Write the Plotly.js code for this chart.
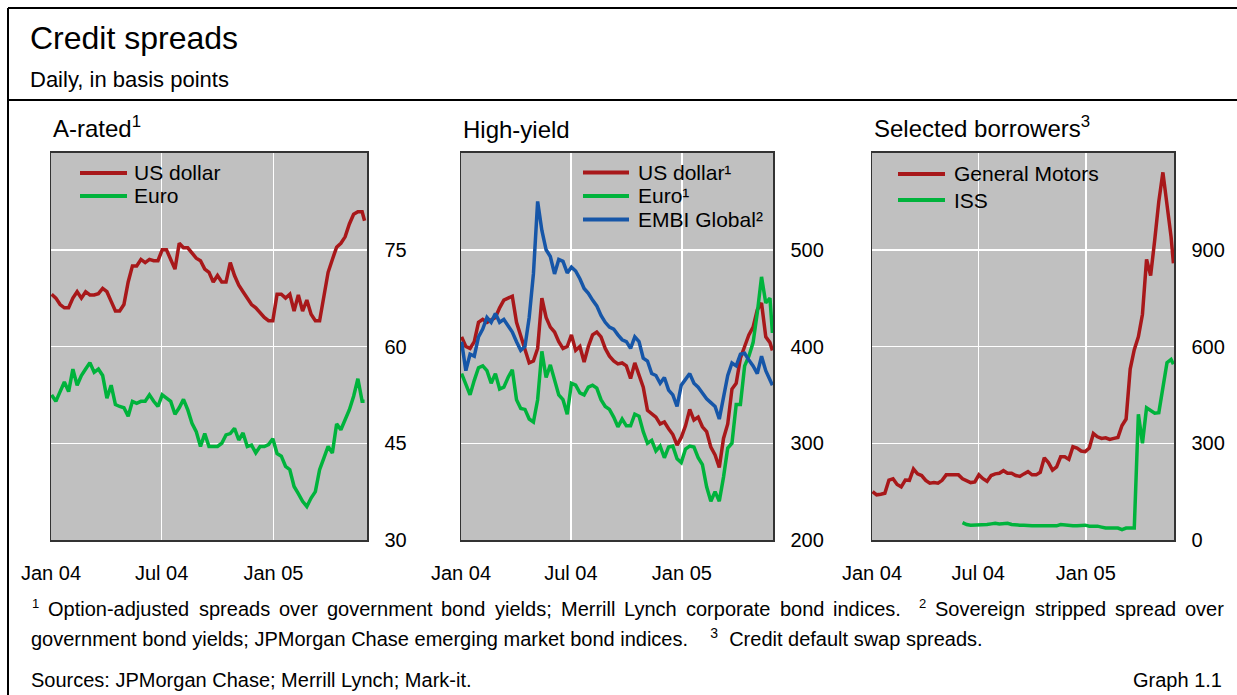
<!DOCTYPE html>
<html><head><meta charset="utf-8">
<script src="https://cdn.plot.ly/plotly-3.0.1.min.js"></script>
<style>html,body{margin:0;padding:0;background:#fff;}#chart{width:1237px;height:695px;}</style>
</head><body><div id="chart"></div>
<script>
// ---------- data (weekly readings) ----------
const dates = ['2004-01-02','2004-01-09','2004-01-16','2004-01-23','2004-01-30','2004-02-06','2004-02-13','2004-02-20','2004-02-27','2004-03-05',
 '2004-03-12','2004-03-19','2004-03-26','2004-04-02','2004-04-09','2004-04-16','2004-04-23','2004-04-30','2004-05-07','2004-05-14',
 '2004-05-21','2004-05-28','2004-06-04','2004-06-11','2004-06-18','2004-06-25','2004-07-02','2004-07-09','2004-07-16','2004-07-23',
 '2004-07-30','2004-08-06','2004-08-13','2004-08-20','2004-08-27','2004-09-03','2004-09-10','2004-09-17','2004-09-24','2004-10-01',
 '2004-10-08','2004-10-15','2004-10-22','2004-10-29','2004-11-05','2004-11-12','2004-11-19','2004-11-26','2004-12-03','2004-12-10',
 '2004-12-17','2004-12-24','2004-12-31','2005-01-07','2005-01-14','2005-01-21','2005-01-28','2005-02-04','2005-02-11','2005-02-18',
 '2005-02-25','2005-03-04','2005-03-11','2005-03-18','2005-03-25','2005-04-01','2005-04-08','2005-04-15','2005-04-22','2005-04-29',
 '2005-05-06','2005-05-13','2005-05-20','2005-05-27','2005-05-31'];

// A-rated
const aRatedUSD = [68.1, 67.5, 66.5, 66, 66, 67.5, 68.5, 67.5, 68.5, 68,
 68, 68.2, 69, 68.5, 67, 65.5, 65.5, 66.5, 70, 72.5,
 72.5, 73.5, 73, 73.5, 73.3, 73.3, 75, 75, 73.5, 72,
 76, 75.3, 75.3, 74.5, 73.7, 73.3, 72, 71.5, 70, 71,
 70, 70, 73, 71, 69.5, 68.5, 67.5, 66.5, 66, 65.3,
 64.5, 64, 64, 68.1, 68.1, 67.5, 68.1, 65.5, 68, 65.5,
 67.2, 65, 64, 64, 67.5, 71.5, 73.5, 75.4, 76, 77,
 79, 80.5, 80.9, 80.9, 79.5];
const aRatedEUR = [52.5, 51.5, 53, 54.5, 53, 56.5, 54, 55.5, 56.5, 57.5,
 56, 56.5, 55.5, 52, 54, 51, 50.7, 50.5, 49.2, 51.5,
 51.2, 51.5, 51.5, 52.5, 51.5, 50.7, 52.5, 52, 51.5, 49.5,
 50.5, 51.8, 50.2, 48.1, 46.8, 44.5, 46.5, 44.5, 44.5, 44.5,
 45, 46.3, 46.5, 47.3, 45.5, 46.6, 44.5, 44.7, 43.5, 44.5,
 44.5, 44.8, 45.7, 43.4, 43, 41.4, 40.9, 38.3, 37.2, 36,
 35.2, 36.5, 37.5, 40.9, 42.7, 44.5, 43.5, 48, 47.1, 48.6,
 50.2, 52.3, 55, 51.5, 51.5];

// High-yield
const hyUSD = [410, 400, 398, 405, 425, 428, 425, 428, 430, 440,
 448, 450, 452, 425, 410, 395, 383, 385, 398, 450,
 430, 420, 415, 405, 398, 400, 412, 396, 400, 384,
 400, 412, 415, 410, 398, 390, 385, 382, 383, 380,
 367, 383, 370, 358, 334, 331, 327, 320, 322, 315,
 309, 298, 306, 318, 335, 324, 327, 317, 312, 296,
 288, 275, 305, 320, 356, 362, 388, 400, 412, 420,
 438, 445, 410, 404, 396];
const hyEUR = [372, 360, 350, 365, 378, 380, 375, 362, 372, 356,
 358, 368, 376, 345, 336, 335, 325, 322, 345, 395,
 368, 381, 366, 350, 345, 330, 362, 360, 352, 350,
 358, 360, 357, 345, 338, 335, 327, 317, 325, 318,
 318, 330, 328, 312, 300, 303, 292, 297, 285, 296,
 297, 284, 280, 294, 297, 296, 285, 278, 255, 240,
 250, 240, 265, 295, 300, 340, 340, 380, 390, 404,
 435, 472, 445, 450, 414];
const embiGlobal = [405, 375, 392, 390, 410, 418, 430, 425, 434, 425,
 428, 422, 415, 405, 396, 400, 430, 475, 550, 520,
 500, 493, 475, 490, 488, 476, 482, 478, 470, 460,
 455, 448, 442, 432, 425, 420, 418, 412, 407, 405,
 398, 410, 405, 388, 385, 372, 370, 362, 368, 355,
 350, 338, 360, 366, 372, 362, 358, 352, 346, 342,
 338, 325, 350, 370, 383, 380, 392, 393, 386, 380,
 372, 390, 375, 365, 360];

// Selected borrowers (CDS)
const generalMotors = [150, 140, 142, 145, 186, 190, 172, 165, 186, 185,
 220, 205, 200, 185, 176, 178, 176, 185, 202, 202,
 200, 202, 190, 184, 178, 180, 202, 190, 182, 200,
 205, 207, 215, 207, 207, 200, 197, 205, 212, 202,
 202, 210, 255, 240, 217, 227, 258, 258, 250, 289,
 285, 276, 274, 285, 330, 320, 315, 317, 312, 315,
 318, 355, 375, 530, 590, 630, 700, 870, 820, 930,
 1050, 1140, 1040, 940, 858];
const iss = [null, null, null, null, null, null, null, null, null, null,
 null, null, null, null, null, null, null, null, null, null,
 null, null, 54, 48, 46, 46, 48, 48, 48, 50,
 52, 50, 52, 52, 48, 46, 46, 46, 44, 44,
 44, 44, 44, 44, 44, 44, 48, 46, 44, 44,
 44, 46, 46, 43, 43, 43, 40, 37, 37, 37,
 37, 32, 37, 37, 37, 390, 300, 410, 400, 393,
 395, 470, 550, 560, 545];

const xTickVals = ['2004-01-01', '2004-07-01', '2005-01-01'];
const xTickText = ['Jan 04', 'Jul 04', 'Jan 05'];
const yTicksA = [30, 45, 60, 75];
const yTicksHY = [200, 300, 400, 500];
const yTicksSB = [0, 300, 600, 900];

// footnote text (first line is justified word by word)
const note1Words = ['Option-adjusted', 'spreads', 'over', 'government', 'bond', 'yields;', 'Merrill', 'Lynch', 'corporate', 'bond', 'indices.'];
const note2Words = ['Sovereign', 'stripped', 'spread', 'over'];
const noteLine2 = 'government bond yields; JPMorgan Chase emerging market bond indices.';
const note3Text = 'Credit default swap spreads.';
const sourcesText = 'Sources: JPMorgan Chase; Merrill Lynch; Mark-it.';

// ---------- styling ----------
const W = 1237, H = 695;
const fx = p => p / W, fy = p => 1 - p / H;
const RED = '#a8181a', GREEN = '#00b33c', BLUE = '#1656a8';
const FONT = 'Liberation Sans, Arial, Helvetica, sans-serif';
const LW = 3.5;

const series = [
  {y: aRatedUSD, name: 'US dollar', color: RED, xa: 'x', ya: 'y'},
  {y: aRatedEUR, name: 'Euro', color: GREEN, xa: 'x', ya: 'y'},
  {y: hyUSD, name: 'US dollar¹', color: RED, xa: 'x2', ya: 'y2'},
  {y: hyEUR, name: 'Euro¹', color: GREEN, xa: 'x2', ya: 'y2'},
  {y: embiGlobal, name: 'EMBI Global²', color: BLUE, xa: 'x2', ya: 'y2'},
  {y: generalMotors, name: 'General Motors', color: RED, xa: 'x3', ya: 'y3'},
  {y: iss, name: 'ISS', color: GREEN, xa: 'x3', ya: 'y3'}
];
const data = series.map(s => ({x: dates, y: s.y, name: s.name, type: 'scatter', mode: 'lines',
  connectgaps: false, line: {color: s.color, width: LW}, xaxis: s.xa, yaxis: s.ya,
  hoverinfo: 'skip', showlegend: false}));

function xax(x0, x1, range, anchor) {
  return {domain: [fx(x0), fx(x1)], range: range, type: 'date', anchor: anchor,
    tickmode: 'array', tickvals: xTickVals, ticktext: xTickText, ticks: '',
    ticklabelstandoff: 14, tickfont: {size: 20, color: '#000', family: FONT},
    showgrid: true, gridcolor: '#ffffff', gridwidth: 1.5, zeroline: false,
    showline: true, linecolor: '#333', linewidth: 2, mirror: true, fixedrange: true};
}
function yax(range, ticks, anchor) {
  return {domain: [fy(540), fy(153)], range: range, anchor: anchor, side: 'right',
    tickmode: 'array', tickvals: ticks, ticks: '', ticklabelstandoff: 12,
    tickfont: {size: 20, color: '#000', family: FONT},
    showgrid: true, gridcolor: '#ffffff', gridwidth: 1.5, zeroline: false,
    showline: true, linecolor: '#333', linewidth: 1.5, mirror: true, fixedrange: true};
}
function ann(text, x, y, size, xanchor) {
  return {text: text, x: fx(x), y: fy(y), xref: 'paper', yref: 'paper',
    xanchor: xanchor || 'left', yanchor: 'middle', showarrow: false, borderpad: 0,
    font: {size: size, color: '#000', family: FONT}};
}
const NB = '\u00a0';

const annotations = [
  ann('Credit spreads', 29, 38, 32),
  ann('Daily, in basis points', 29, 80, 22),
  ann('A-rated<sup>1</sup>', 52, 127, 24),
  ann('High-yield', 462, 129, 24),
  ann('Selected borrowers<sup>3</sup>', 873, 127, 24),
  ann(noteLine2 + NB + NB + NB + ' <sup>3</sup>' + NB + ' ' + note3Text, 30, 637, 20),
  ann(sourcesText, 30, 680, 20),
  ann('Graph 1.1', 1223, 680, 20, 'right')
];

// justify footnote line 1 between x=30 and x=1223
(function () {
  const ctx = document.createElement('canvas').getContext('2d');
  const tw = (t, s) => { ctx.font = s + 'px "Liberation Sans", Arial, sans-serif'; return ctx.measureText(t).width; };
  const FS = 20, SUP = 13, SUPGAP = 9, X0 = 31, X1 = 1223, Y = 609, YS = 603;
  const s1 = tw('1', SUP), s2 = tw('2', SUP);
  const w1 = note1Words.map(w => tw(w, FS)), w2 = note2Words.map(w => tw(w, FS));
  const sum = a => a.reduce((p, c) => p + c, 0);
  const nGaps = (note1Words.length - 1) + 2 + (note2Words.length - 1);
  const g = (X1 - X0 - s1 - s2 - 2 * SUPGAP - sum(w1) - sum(w2)) / nGaps;
  let x = X0;
  annotations.push(ann('1', x, YS, SUP)); x += s1 + SUPGAP;
  note1Words.forEach((w, i) => { annotations.push(ann(w, x, Y, FS)); x += w1[i] + g; });
  x += g;
  annotations.push(ann('2', x, YS, SUP)); x += s2 + SUPGAP;
  note2Words.forEach((w, i) => { annotations.push(ann(w, x, Y, FS)); x += w2[i] + g; });
})();

const shapes = [
  {type: 'line', xref: 'paper', yref: 'paper', x0: fx(8), x1: 1, y0: fy(8), y1: fy(8), line: {color: '#000', width: 2}},
  {type: 'line', xref: 'paper', yref: 'paper', x0: fx(8), x1: 1, y0: fy(100), y1: fy(100), line: {color: '#000', width: 2}},
  {type: 'line', xref: 'paper', yref: 'paper', x0: fx(8), x1: fx(8), y0: fy(8), y1: 0, line: {color: '#000', width: 2}}
];

// legend boxes (grey background hides grid lines), drawn by hand for exact row spacing
const legends = [
  {box: [72, 157, 240, 216], sx: [80, 127], tx: 133, rows: [173, 196], items: [0, 1]},
  {box: [575, 157, 771, 239], sx: [583, 629], tx: 637, rows: [172.5, 196, 219.5], items: [2, 3, 4]},
  {box: [890, 157, 1120, 220], sx: [898, 945], tx: 953, rows: [174, 200], items: [5, 6]}
];
legends.forEach(L => {
  shapes.push({type: 'rect', xref: 'paper', yref: 'paper', layer: 'between',
    x0: fx(L.box[0]), y0: fy(L.box[1]), x1: fx(L.box[2]), y1: fy(L.box[3]),
    fillcolor: '#c0c0c0', line: {width: 0}});
  L.items.forEach((k, r) => {
    const s = series[k];
    shapes.push({type: 'line', xref: 'paper', yref: 'paper', layer: 'above',
      x0: fx(L.sx[0]), x1: fx(L.sx[1]), y0: fy(L.rows[r]), y1: fy(L.rows[r]),
      line: {color: s.color, width: 4}});
    annotations.push(ann(s.name, L.tx, L.rows[r], 21));
  });
});

const layout = {
  width: W, height: H, margin: {l: 0, r: 0, t: 0, b: 0},
  paper_bgcolor: '#ffffff', plot_bgcolor: '#c0c0c0',
  font: {family: FONT, color: '#000'}, showlegend: false,
  xaxis: xax(51, 367, ['2004-01-01', '2005-06-04'], 'y'),
  yaxis: yax([30, 90], yTicksA, 'x'),
  xaxis2: xax(461, 773, ['2004-01-01', '2005-06-01'], 'y2'),
  yaxis2: yax([200, 600], yTicksHY, 'x2'),
  xaxis3: xax(872, 1174, ['2004-01-01', '2005-06-01'], 'y3'),
  yaxis3: yax([0, 1200], yTicksSB, 'x3'),
  annotations: annotations,
  shapes: shapes
};

Plotly.newPlot('chart', data, layout, {displayModeBar: false, staticPlot: true});
</script>
</body></html>
